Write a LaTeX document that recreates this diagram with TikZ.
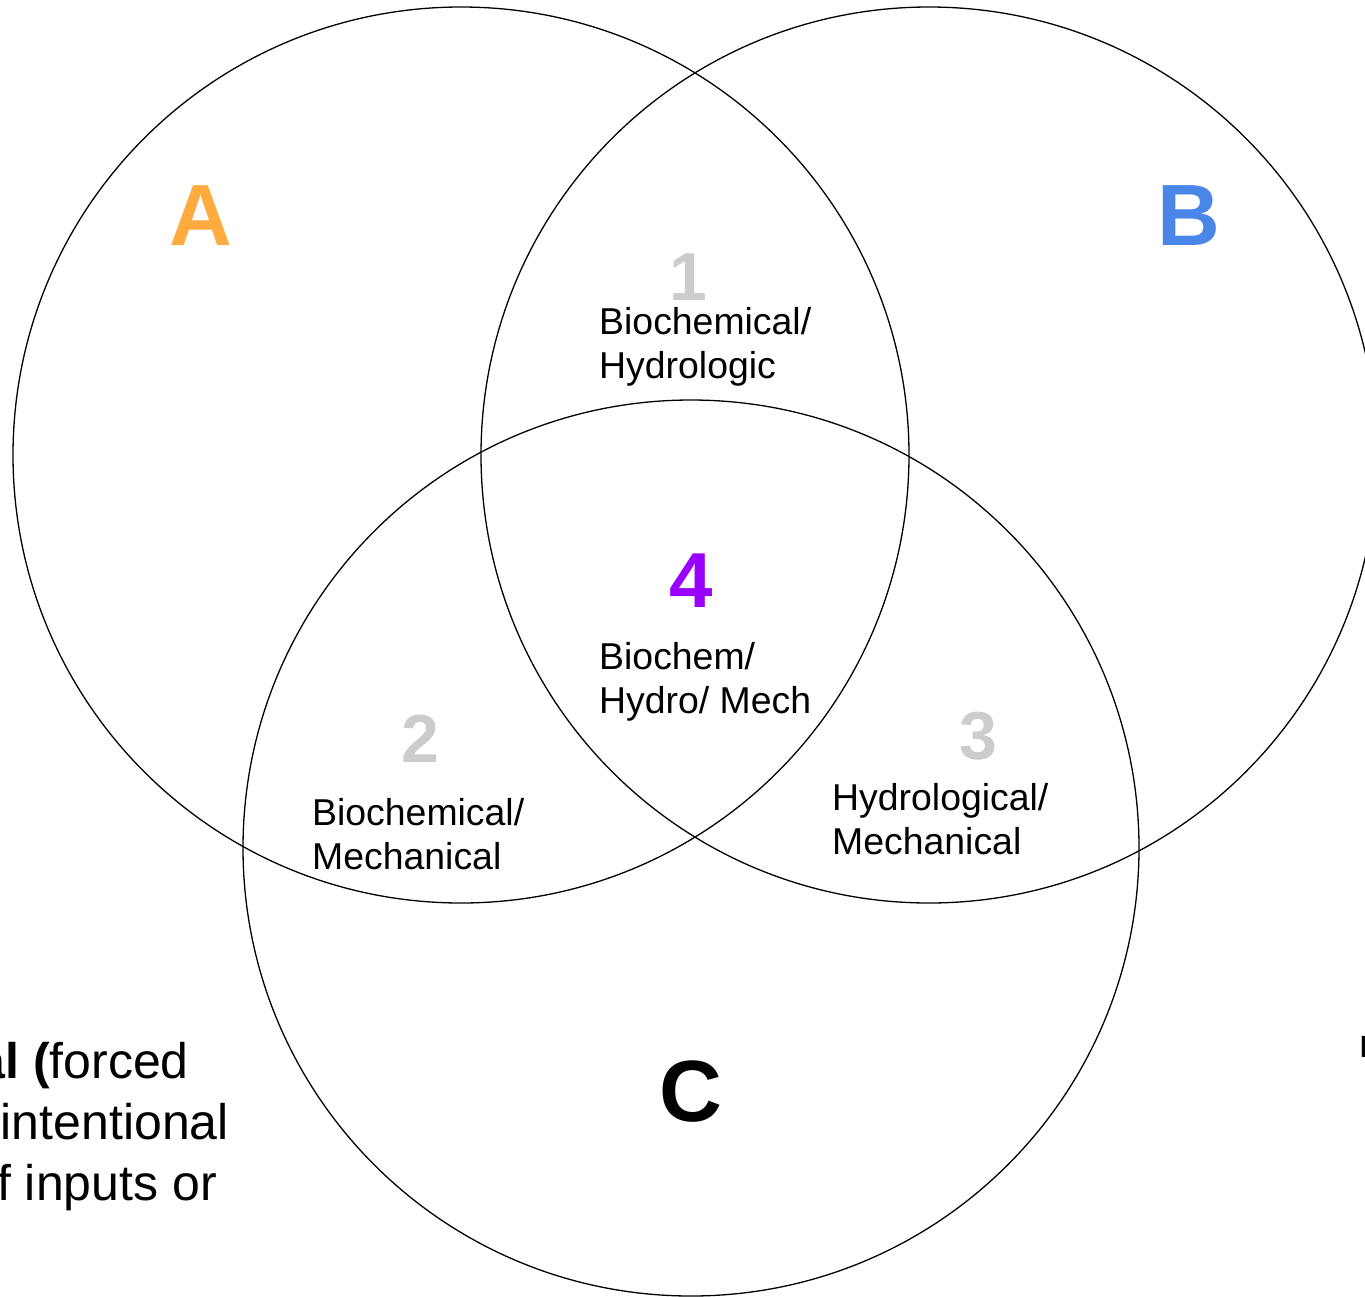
\documentclass[tikz,border=0pt]{standalone}
\usepackage{fontspec}
\setmainfont{Liberation Sans}
\definecolor{setA}{HTML}{FFAB40}
\definecolor{setB}{HTML}{4A86E8}
\definecolor{core}{HTML}{9900FF}
\definecolor{numgray}{HTML}{CCCCCC}
\begin{document}
\begin{tikzpicture}[x=1pt, y=-1pt,
    ring/.style={draw=black, line width=1.3pt},
    lbl/.style={anchor=base west, inner sep=0pt, font=\fontsize{37.4}{44}\selectfont},
    num/.style={inner sep=0pt, text=numgray, font=\bfseries\fontsize{68}{68}\selectfont},
    setname/.style={inner sep=0pt, font=\bfseries\fontsize{87}{87}\selectfont},
    side/.style={anchor=base east, inner sep=0pt, font=\fontsize{50}{61}\selectfont}]
            \useasboundingbox (0,0) rectangle (1365,1296);
            \clip (0,0) rectangle (1365,1296);

            \draw[ring] (461,455) circle (448);
            \draw[ring] (929,455) circle (448);
            \draw[ring] (691,848) circle (448);

            % set names
            \node[setname, text=setA] (nameA) at (201,216) {A};
            \node[setname, text=setB] (nameB) at (1189,216) {B};
            \node[setname] (nameC) at (691,1092) {C};

            % overlaps
            \node[num] (n1) at (688,277) {1};
            \node[lbl] (l1a) at (599,334) {Biochemical/};
            \node[lbl] (l1b) at (599,378) {Hydrologic};

            \node[num] (n2) at (420,739) {2};
            \node[lbl] (l2a) at (312,825) {Biochemical/};
            \node[lbl] (l2b) at (312,869) {Mechanical};

            \node[num] (n3) at (978,736) {3};
            \node[lbl] (l3a) at (832,810) {Hydrological/};
            \node[lbl] (l3b) at (832,854) {Mechanical};

            \node[num, text=core, font=\bfseries\fontsize{78}{78}\selectfont] (n4) at (691,581) {4};
            \node[lbl] (l4a) at (599,669) {Biochem/};
            \node[lbl] (l4b) at (599,713) {Hydro/ Mech};

            % text running off the page
            \node[side] (s1) at (189,1078) {\textbf{al (}forced};
            \node[side] (s2) at (229,1139) {intentional};
            \node[side] (s3) at (217,1200) {f inputs or};
            \node[anchor=base west, inner sep=0pt, font=\fontsize{40}{48}\selectfont] (s4) at (1359,1057) {n};
        \end{tikzpicture}
\end{document}
